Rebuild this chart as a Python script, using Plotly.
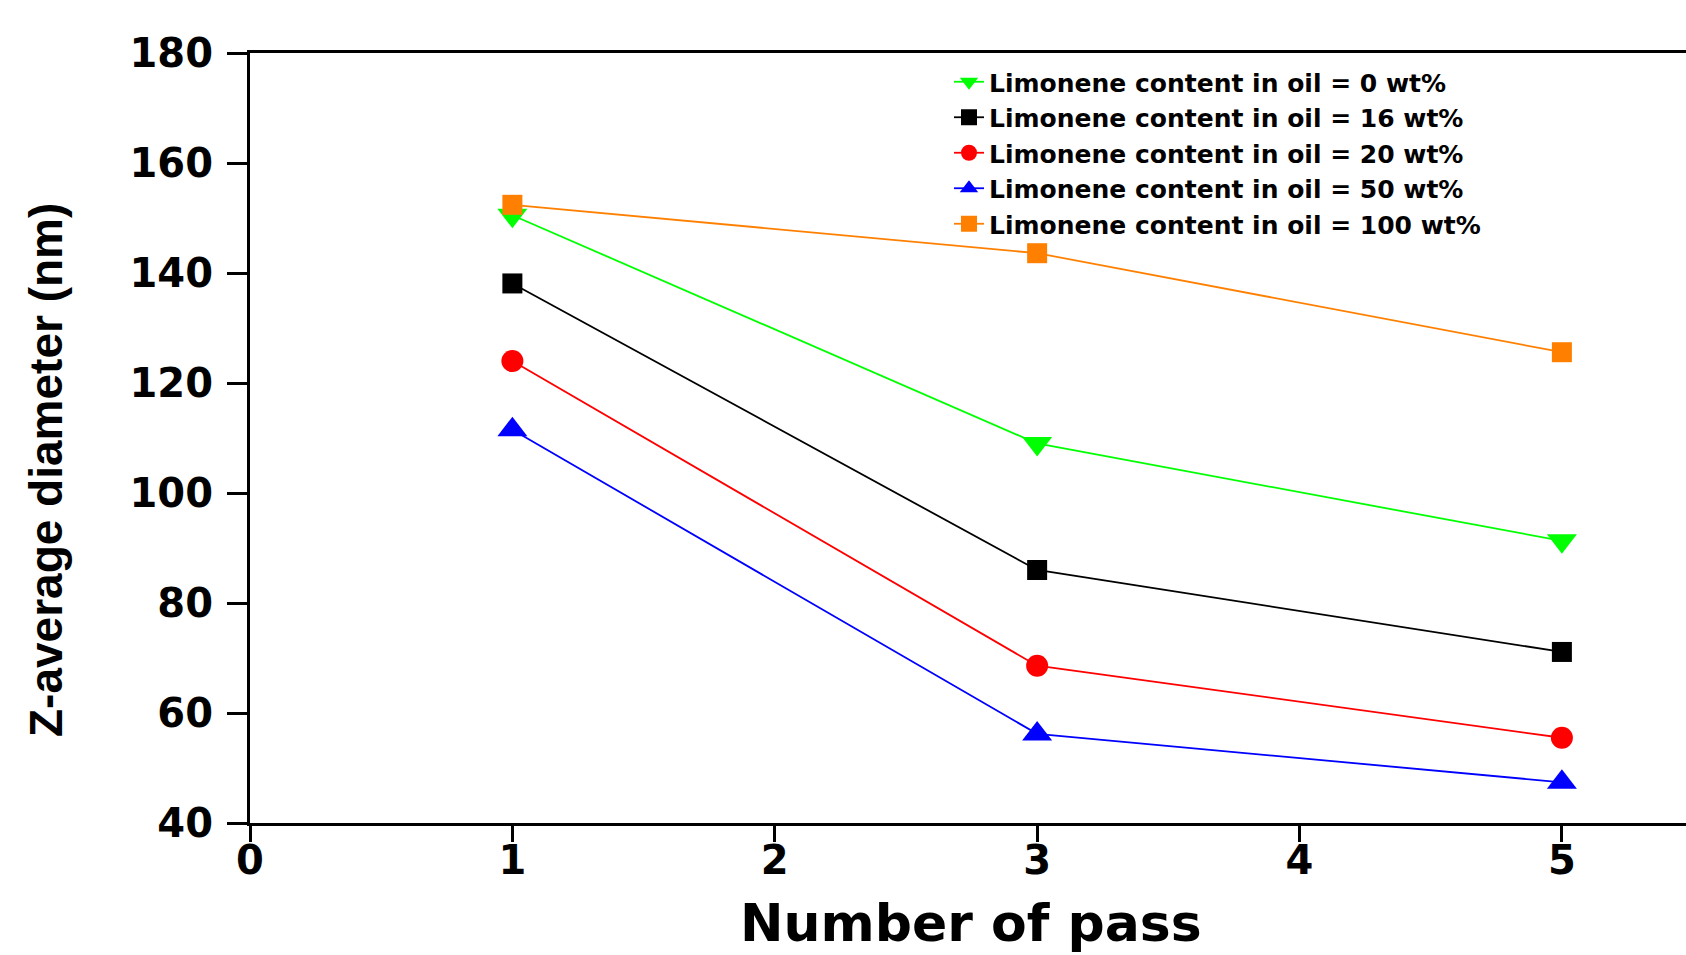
import plotly.graph_objects as go

# Number of homogenisation passes
passes = [1, 3, 5]

# Z-average droplet diameter (nm) for each limonene content in the oil phase
z_0 = [150.5, 109.0, 91.3]
z_16 = [138.1, 86.0, 71.1]
z_20 = [124.0, 68.6, 55.5]
z_50 = [111.5, 56.2, 47.4]
z_100 = [152.4, 143.6, 125.6]

series_names = [
    "Limonene content in oil = 0 wt%",
    "Limonene content in oil = 16 wt%",
    "Limonene content in oil = 20 wt%",
    "Limonene content in oil = 50 wt%",
    "Limonene content in oil = 100 wt%",
]
series_values = [z_0, z_16, z_20, z_50, z_100]
series_colors = ["#00FF00", "#000000", "#FF0000", "#0000FF", "#FF8000"]
series_symbols = ["triangle-down", "square", "circle", "triangle-up", "square"]
series_sizes = [26, 20, 22, 26, 20]

x_ticks = [0, 1, 2, 3, 4, 5]
y_ticks = [40, 60, 80, 100, 120, 140, 160, 180]

W, H = 1686, 955
ML, MR, MT, MB = 250, 0, 53, 132
PW, PH = W - ML - MR, H - MT - MB

TICK_FONT = dict(family="DejaVu Sans", size=40, color="black", weight="bold")

fig = go.Figure()
for name, vals, col, sym, sz in zip(series_names, series_values, series_colors,
                                    series_symbols, series_sizes):
    fig.add_trace(go.Scatter(
        x=passes, y=vals, name=name, mode="lines+markers",
        line=dict(color=col, width=1.8),
        marker=dict(symbol=sym, size=sz, color=col, line=dict(width=0)),
    ))

def px_x(p):
    return (p - ML) / PW

def px_y(p):
    return (H - MB - p) / PH

fig.update_layout(
    width=W, height=H,
    margin=dict(l=ML, r=MR, t=MT, b=MB, pad=0),
    paper_bgcolor="white", plot_bgcolor="white",
    showlegend=True,
    legend=dict(
        x=px_x(949), y=px_y(59), xanchor="left", yanchor="top",
        bgcolor="rgba(0,0,0,0)", borderwidth=0, tracegroupgap=0,
        font=dict(family="DejaVu Sans", size=25, color="black", weight="bold"),
    ),
    xaxis=dict(
        range=[0, 5.473], tickmode="array", tickvals=x_ticks,
        ticks="outside", ticklen=16, tickwidth=2.5, tickcolor="black",
        showline=True, linewidth=3, linecolor="black", mirror=True,
        showgrid=False, zeroline=False, tickfont=TICK_FONT,
        ticklabelstandoff=-16,
    ),
    yaxis=dict(
        range=[40, 180], tickmode="array", tickvals=y_ticks,
        ticks="outside", ticklen=20, tickwidth=2.5, tickcolor="black",
        showline=True, linewidth=3, linecolor="black",
        showgrid=False, zeroline=False, tickfont=TICK_FONT,
        ticklabelstandoff=6,
    ),
    annotations=[
        dict(text="Number of pass", xref="paper", yref="paper",
             x=px_x(971), y=px_y(923), xanchor="center", yanchor="middle",
             showarrow=False,
             font=dict(family="DejaVu Sans", size=52, color="black", weight="bold")),
        dict(text="Z-average diameter (nm)", xref="paper", yref="paper",
             x=px_x(46), y=px_y(470), xanchor="center", yanchor="middle",
             textangle=-90, showarrow=False,
             font=dict(family="Liberation Sans", size=46, color="black", weight="bold")),
    ],
)

fig.write_html("out.html")
